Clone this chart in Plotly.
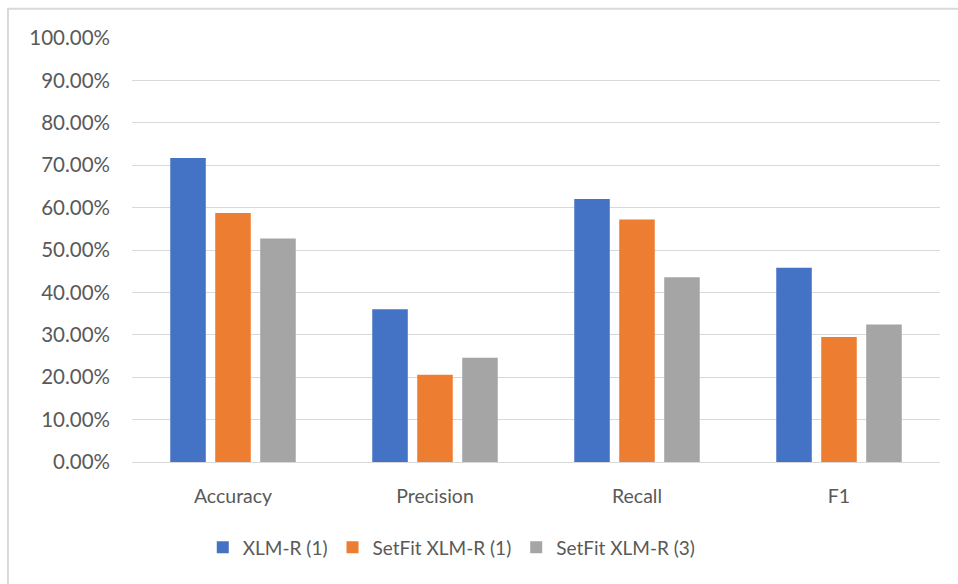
import plotly.graph_objects as go

# Evaluation metrics for three classifier variants
metrics = ["Accuracy", "Precision", "Recall", "F1"]
xlmr_1 = [0.717, 0.360, 0.620, 0.458]
setfit_xlmr_1 = [0.587, 0.206, 0.572, 0.295]
setfit_xlmr_3 = [0.527, 0.246, 0.436, 0.324]

series_names = ["XLM-R (1)", "SetFit XLM-R (1)", "SetFit XLM-R (3)"]
series_colors = ["#4472C4", "#ED7D31", "#A5A5A5"]

y_ticks = [i / 10 for i in range(11)]

FONT = "Lato"
TEXT = "#595959"
GRID = "#D9D9D9"

fig = go.Figure()
for name, vals, col in zip(series_names, [xlmr_1, setfit_xlmr_1, setfit_xlmr_3], series_colors):
    fig.add_trace(go.Bar(x=metrics, y=vals, name=name, marker_color=col,
                         marker_line_width=0))

fig.update_layout(
    width=958, height=584,
    margin=dict(l=132, r=18, t=38, b=122),
    paper_bgcolor="white", plot_bgcolor="white",
    barmode="group", bargap=0.332, bargroupgap=0.21,
    font=dict(family=FONT, size=19, color=TEXT),
    showlegend=True,
    legend=dict(orientation="h", x=0.0876, xanchor="left", y=-0.2016, yanchor="middle",
                font=dict(family=FONT, size=19, color=TEXT),
                bgcolor="rgba(0,0,0,0)", traceorder="normal"),
    shapes=[dict(type="rect", xref="paper", yref="paper",
                 x0=-0.1535, x1=1.2, y0=-0.4, y1=1.069,
                 line=dict(color=GRID, width=2), fillcolor="rgba(0,0,0,0)",
                 layer="below")],
)
fig.update_xaxes(showgrid=False, showline=True, linecolor=GRID, linewidth=1.3,
                 ticks="", ticklabelstandoff=16,
                 tickfont=dict(family=FONT, size=19.5, color=TEXT))
fig.update_yaxes(range=[0, 1.0], tickvals=y_ticks, tickformat=".2%",
                 showgrid=True, gridcolor=GRID, gridwidth=1.3,
                 zeroline=False, showline=False, ticks="", ticklabelstandoff=21,
                 tickfont=dict(family=FONT, size=20.5, color=TEXT))

fig.write_html("out.html")
